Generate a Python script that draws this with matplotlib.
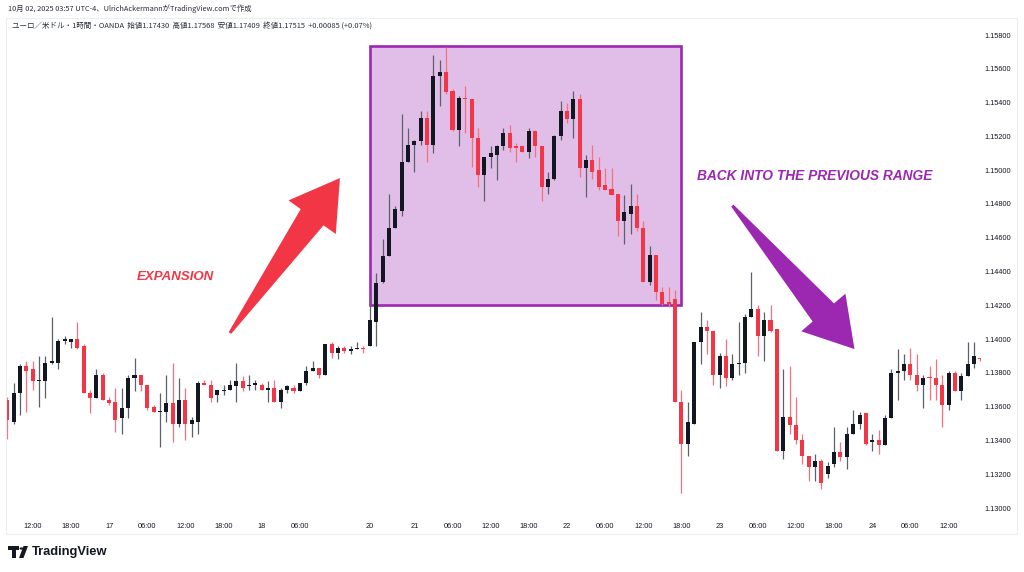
import numpy as np
import pandas as pd
import matplotlib
matplotlib.use("Agg")
import matplotlib.pyplot as plt
from matplotlib.patches import Rectangle, Polygon, Circle
from matplotlib.transforms import IdentityTransform

# ---------------- data (EUR/USD 1h, OANDA) ----------------
opens = [1.1364, 1.1351, 1.1368, 1.1384, 1.1382, 1.1375, 1.1375, 1.1386, 1.1386, 1.1399,
         1.1398, 1.1400, 1.1396, 1.1368, 1.1365, 1.1379, 1.1364, 1.1363, 1.1353, 1.1359,
         1.1377, 1.1379, 1.1373, 1.1360, 1.1357, 1.1357, 1.1362, 1.1350, 1.1364, 1.1350,
         1.1351, 1.1374, 1.1373, 1.1367, 1.1369, 1.1370, 1.1372, 1.1375, 1.1372, 1.1373,
         1.1373, 1.1370, 1.1371, 1.1363, 1.1370, 1.1371, 1.1369, 1.1374, 1.1381, 1.1383,
         1.1379, 1.1397, 1.1392, 1.1395, 1.1393, 1.1394, 1.1395, 1.1396, 1.1410, 1.1434,
         1.1449, 1.1466, 1.1476, 1.1505, 1.1515, 1.1517, 1.1531, 1.1515, 1.1556, 1.1558,
         1.1547, 1.1524, 1.1543, 1.1542, 1.1519, 1.1497, 1.1508, 1.1509, 1.1514, 1.1522,
         1.1514, 1.1514, 1.1511, 1.1523, 1.1514, 1.1490, 1.1495, 1.1520, 1.1535, 1.1530,
         1.1542, 1.1501, 1.1506, 1.1500, 1.1491, 1.1489, 1.1486, 1.1470, 1.1474, 1.1479,
         1.1466, 1.1434, 1.1450, 1.1428, 1.1422, 1.1424, 1.1363, 1.1338, 1.1350, 1.1398,
         1.1407, 1.1405, 1.1379, 1.1390, 1.1377, 1.1385, 1.1386, 1.1413, 1.1418, 1.1402,
         1.1411, 1.1406, 1.1334, 1.1354, 1.1349, 1.1340, 1.1331, 1.1324, 1.1328, 1.1320,
         1.1326, 1.1333, 1.1330, 1.1344, 1.1350, 1.1356, 1.1339, 1.1340, 1.1337, 1.1353,
         1.1380, 1.1381, 1.1385, 1.1379, 1.1373, 1.1377, 1.1377, 1.1373, 1.1361, 1.1380,
         1.1369, 1.1378, 1.1385, 1.1389]
highs = [1.1366, 1.1374, 1.1385, 1.1387, 1.1387, 1.1390, 1.1390, 1.1413, 1.1400, 1.1402,
         1.1400, 1.1410, 1.1397, 1.1370, 1.1382, 1.1380, 1.1366, 1.1371, 1.1371, 1.1379,
         1.1389, 1.1379, 1.1373, 1.1361, 1.1368, 1.1379, 1.1386, 1.1377, 1.1371, 1.1354,
         1.1375, 1.1376, 1.1376, 1.1370, 1.1373, 1.1376, 1.1386, 1.1378, 1.1379, 1.1376,
         1.1374, 1.1375, 1.1376, 1.1371, 1.1373, 1.1373, 1.1374, 1.1384, 1.1387, 1.1383,
         1.1397, 1.1398, 1.1396, 1.1396, 1.1396, 1.1398, 1.1396, 1.1425, 1.1439, 1.1459,
         1.1486, 1.1479, 1.1533, 1.1525, 1.1518, 1.1535, 1.1535, 1.1568, 1.1565, 1.1573,
         1.1548, 1.1544, 1.1550, 1.1542, 1.1525, 1.1508, 1.1514, 1.1515, 1.1525, 1.1527,
         1.1516, 1.1515, 1.1525, 1.1524, 1.1514, 1.1499, 1.1521, 1.1541, 1.1540, 1.1547,
         1.1545, 1.1509, 1.1515, 1.1508, 1.1501, 1.1501, 1.1486, 1.1485, 1.1492, 1.1486,
         1.1470, 1.1455, 1.1450, 1.1431, 1.1431, 1.1429, 1.1370, 1.1363, 1.1398, 1.1416,
         1.1411, 1.1405, 1.1392, 1.1400, 1.1391, 1.1410, 1.1415, 1.1440, 1.1420, 1.1416,
         1.1420, 1.1406, 1.1382, 1.1384, 1.1366, 1.1344, 1.1331, 1.1332, 1.1329, 1.1327,
         1.1348, 1.1339, 1.1348, 1.1358, 1.1357, 1.1356, 1.1344, 1.1346, 1.1355, 1.1382,
         1.1394, 1.1391, 1.1395, 1.1391, 1.1379, 1.1384, 1.1388, 1.1379, 1.1381, 1.1381,
         1.1380, 1.1398, 1.1398, 1.1389]
lows = [1.1341, 1.1350, 1.1355, 1.1357, 1.1370, 1.1360, 1.1365, 1.1385, 1.1382, 1.1397,
        1.1395, 1.1394, 1.1368, 1.1356, 1.1365, 1.1364, 1.1361, 1.1345, 1.1344, 1.1353,
        1.1369, 1.1369, 1.1358, 1.1357, 1.1336, 1.1351, 1.1339, 1.1348, 1.1340, 1.1342,
        1.1344, 1.1373, 1.1363, 1.1363, 1.1367, 1.1370, 1.1363, 1.1369, 1.1370, 1.1370,
        1.1370, 1.1363, 1.1363, 1.1359, 1.1368, 1.1368, 1.1369, 1.1373, 1.1381, 1.1377,
        1.1379, 1.1389, 1.1388, 1.1392, 1.1391, 1.1394, 1.1392, 1.1396, 1.1396, 1.1433,
        1.1449, 1.1466, 1.1473, 1.1505, 1.1499, 1.1515, 1.1505, 1.1510, 1.1538, 1.1545,
        1.1523, 1.1514, 1.1522, 1.1502, 1.1490, 1.1482, 1.1501, 1.1494, 1.1512, 1.1511,
        1.1505, 1.1511, 1.1507, 1.1508, 1.1482, 1.1486, 1.1494, 1.1518, 1.1528, 1.1519,
        1.1496, 1.1484, 1.1495, 1.1488, 1.1488, 1.1485, 1.1461, 1.1456, 1.1462, 1.1464,
        1.1434, 1.1432, 1.1423, 1.1420, 1.1419, 1.1363, 1.1309, 1.1331, 1.1350, 1.1385,
        1.1391, 1.1373, 1.1371, 1.1372, 1.1376, 1.1379, 1.1380, 1.1413, 1.1390, 1.1387,
        1.1404, 1.1334, 1.1329, 1.1344, 1.1338, 1.1326, 1.1316, 1.1316, 1.1311, 1.1318,
        1.1324, 1.1328, 1.1323, 1.1344, 1.1347, 1.1337, 1.1334, 1.1332, 1.1337, 1.1353,
        1.1364, 1.1376, 1.1376, 1.1369, 1.1359, 1.1364, 1.1364, 1.1348, 1.1358, 1.1369,
        1.1364, 1.1378, 1.1383, 1.1387]
closes = [1.1352, 1.1368, 1.1384, 1.1381, 1.1375, 1.1375, 1.1386, 1.1387, 1.1399, 1.1400,
          1.1400, 1.1395, 1.1368, 1.1365, 1.1379, 1.1364, 1.1362, 1.1352, 1.1359, 1.1377,
          1.1379, 1.1373, 1.1359, 1.1357, 1.1357, 1.1362, 1.1350, 1.1364, 1.1350, 1.1352,
          1.1374, 1.1373, 1.1365, 1.1370, 1.1370, 1.1373, 1.1375, 1.1371, 1.1373, 1.1374,
          1.1370, 1.1371, 1.1363, 1.1370, 1.1372, 1.1369, 1.1374, 1.1381, 1.1383, 1.1379,
          1.1397, 1.1392, 1.1395, 1.1393, 1.1394, 1.1395, 1.1394, 1.1411, 1.1433, 1.1449,
          1.1466, 1.1477, 1.1505, 1.1515, 1.1517, 1.1531, 1.1515, 1.1556, 1.1558, 1.1546,
          1.1524, 1.1543, 1.1542, 1.1519, 1.1497, 1.1508, 1.1510, 1.1514, 1.1522, 1.1513,
          1.1513, 1.1511, 1.1523, 1.1514, 1.1490, 1.1495, 1.1520, 1.1535, 1.1530, 1.1542,
          1.1501, 1.1506, 1.1499, 1.1490, 1.1488, 1.1485, 1.1470, 1.1475, 1.1479, 1.1466,
          1.1434, 1.1450, 1.1428, 1.1421, 1.1421, 1.1363, 1.1338, 1.1351, 1.1398, 1.1407,
          1.1405, 1.1379, 1.1390, 1.1377, 1.1385, 1.1386, 1.1413, 1.1418, 1.1402, 1.1411,
          1.1405, 1.1334, 1.1354, 1.1349, 1.1340, 1.1331, 1.1324, 1.1328, 1.1315, 1.1325,
          1.1333, 1.1330, 1.1344, 1.1350, 1.1355, 1.1338, 1.1340, 1.1337, 1.1353, 1.1380,
          1.1381, 1.1385, 1.1379, 1.1373, 1.1377, 1.13768, 1.1373, 1.1361, 1.1380, 1.1369,
          1.1378, 1.1385, 1.1390, 1.1388]

session_1 = ("2025-04-16 08:00", "2025-04-18 16:00")
session_2 = ("2025-04-20 17:00", "2025-04-24 17:00")
price_ticks = [1.130, 1.132, 1.134, 1.136, 1.138, 1.140, 1.142, 1.144,
               1.146, 1.148, 1.150, 1.152, 1.154, 1.156, 1.158]

range_box = ("2025-04-20 17:00", "2025-04-22 18:00", 1.14202, 1.15735)
expansion_label = "EXPANSION"
back_label = "BACK INTO THE PREVIOUS RANGE"
header_1 = "10月 02, 2025 03:57 UTC-4、UlrichAckermannがTradingView.comで作成"
header_2 = ("ユーロ／米ドル・1時間・OANDA  始値1.17430  高値1.17568  安値1.17409  "
            "終値1.17515  +0.00085 (+0.07%)")

# ---------------- layout ----------------
W, H = 1024, 572
PL, PR, PT, PB = 6, 981, 18, 516          # plot area in pixels
UP, DOWN = "#131722", "#f23645"
UP_WICK, DOWN_WICK = "#5d6069", "#f7707f"
PURPLE, PURPLE_FILL = "#9c27b0", "#e1bee7"
CJK = ["Noto Sans CJK JP", "DejaVu Sans"]
AXFONT = "Liberation Sans"

times = pd.date_range(*session_1, freq="h").append(pd.date_range(*session_2, freq="h"))
o, h, l, c = map(np.asarray, (opens, highs, lows, closes))
idx = np.arange(len(times))
up = c >= o

fig = plt.figure(figsize=(W / 100, H / 100), dpi=100)
fig.patch.set_facecolor("white")
ax = fig.add_axes([PL / W, 1 - PB / H, (PR - PL) / W, (PB - PT) / H])
ax.set_facecolor("white")

px_per_bar = 6.36
first_bar_px = 7.3
ax.set_xlim((PL - first_bar_px) / px_per_bar, (PR - first_bar_px) / px_per_bar)
px_per_price = 473 / 0.028
ax.set_ylim(1.158 - (PB - 35) / px_per_price, 1.158 + (35 - PT) / px_per_price)

def t_index(ts):
    return int(np.searchsorted(times, pd.Timestamp(ts)))

# range rectangle
x0, x1, y0, y1 = t_index(range_box[0]), t_index(range_box[1]), range_box[2], range_box[3]
ax.add_patch(Rectangle((x0, y0), x1 - x0, y1 - y0, facecolor=PURPLE_FILL,
                       edgecolor=PURPLE, lw=1.9, zorder=1))

# candles
ax.vlines(idx, l, h, colors=np.where(up, UP_WICK, DOWN_WICK), lw=0.9, zorder=2)
body_lo = np.minimum(o, c)
body_h = np.maximum(np.abs(c - o), 0.00006)
ax.bar(idx, body_h, bottom=body_lo, width=0.64,
       color=np.where(up, UP, DOWN), lw=0, zorder=3)

# axes styling
for s in ax.spines.values():
    s.set_visible(False)
ax.yaxis.tick_right()
ax.set_yticks(price_ticks)
ax.set_yticklabels([f"{p:.5f}" for p in price_ticks], family=AXFONT)
ax.tick_params(axis="y", length=0, pad=2.5, labelsize=5.3, labelcolor="#131722")

# time ticks: every 6h, day numbers at midnight / session start
tick_pos, tick_lab = [], []
session_start = len(pd.date_range(*session_1, freq="h"))
prio = {session_start}
for i, t in enumerate(times):
    if i == session_start:
        tick_pos.append(i); tick_lab.append(str(t.day))
    elif t.hour % 6 == 0 and t.minute == 0:
        if any(abs(i - p) < 6 for p in prio):
            continue
        tick_pos.append(i)
        tick_lab.append(str(t.day) if t.hour == 0 else t.strftime("%H:%M"))
ax.set_xticks(tick_pos)
ax.set_xticklabels(tick_lab, family=AXFONT)
ax.tick_params(axis="x", length=0, pad=5, labelsize=5.3, labelcolor="#131722")

fig.canvas.draw()
to_disp = ax.transData.transform

def arrow(tail, tip, color, head_len=48, head_half=29, shaft_half=14, tail_half=1.5):
    T = np.array(to_disp((t_index(tail[0]) + tail[1], tail[2])), float)
    P = np.array(to_disp((t_index(tip[0]) + tip[1], tip[2])), float)
    u = (P - T) / np.linalg.norm(P - T)
    n = np.array([-u[1], u[0]])
    B = P - u * head_len
    pts = [T + n * tail_half, B + n * shaft_half, B + n * head_half, P,
           B - n * head_half, B - n * shaft_half, T - n * tail_half]
    fig.add_artist(Polygon(pts, closed=True, transform=IdentityTransform(),
                           facecolor=color, edgecolor="none", zorder=5))

# arrows anchored at (bar time, fractional bar offset, price)
arrow(("2025-04-17 19:00", 0.0, 1.14036), ("2025-04-18 12:00", 0.3, 1.14953), DOWN)
arrow(("2025-04-23 02:00", 0.0, 1.14790), ("2025-04-23 21:00", 0.2, 1.13941), PURPLE)

ax.text(t_index("2025-04-17 10:00") + 0.5, 1.14367, expansion_label, color=DOWN,
        fontsize=9.5, fontweight="bold", fontstyle="italic", family="Liberation Sans",
        ha="center", va="center", zorder=6)
ax.text(t_index("2025-04-23 15:00"), 1.14965, back_label, color=PURPLE,
        fontsize=9.9, fontweight="bold", fontstyle="italic", family="Liberation Sans",
        ha="center", va="center", zorder=6)

# pane border
fig.add_artist(Rectangle((6 / W, 1 - 534 / H), (1017 - 6) / W, (534 - 18) / H,
                         transform=fig.transFigure, fill=False, edgecolor="#eceef2", lw=0.8))

# header
fig.text(8 / W, 1 - 9 / H, header_1, fontsize=5.3, family=CJK, color="#2a2e39",
         va="center", ha="left")
fig.text(12 / W, 1 - 26 / H, header_2, fontsize=5.4, family=CJK, color="#2a2e39",
         va="center", ha="left")

# TradingView logo
def fx(x): return x / W
def fy(y): return 1 - y / H
fig.add_artist(Rectangle((fx(8), fy(550)), 11 / W, 4 / H, transform=fig.transFigure,
                         facecolor="#131722", edgecolor="none"))
fig.add_artist(Rectangle((fx(12), fy(558)), 4 / W, 9 / H, transform=fig.transFigure,
                         facecolor="#131722", edgecolor="none"))
fig.add_artist(Circle((fx(21.5), fy(548.5)), 2.0 / W, transform=fig.transFigure,
                      facecolor="#131722", edgecolor="none"))
fig.add_artist(Polygon([(fx(19), fy(558)), (fx(23.5), fy(558)), (fx(28), fy(546)), (fx(23.5), fy(546))],
                       closed=True, transform=fig.transFigure, facecolor="#131722",
                       edgecolor="none"))
fig.text(32 / W, 1 - 552 / H, "TradingView", fontsize=9.3, fontweight="bold",
         family="Liberation Sans", color="#131722", va="center", ha="left")

fig.savefig("out.png", dpi=100, facecolor="white")
